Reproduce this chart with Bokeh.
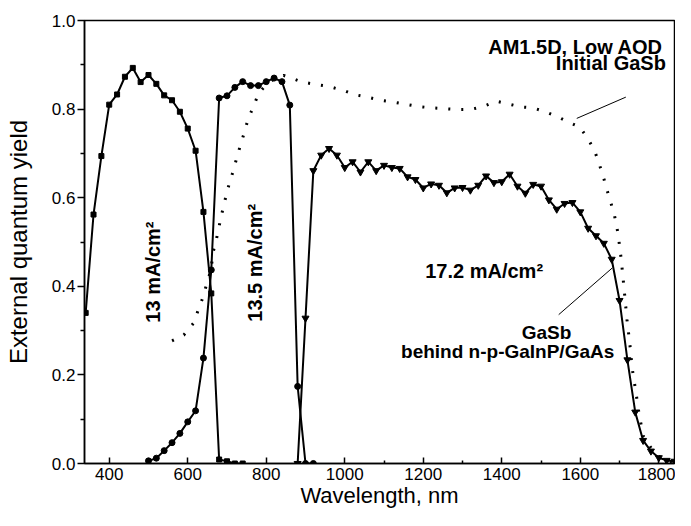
import math
from bokeh.plotting import figure
from bokeh.models import Range1d, FixedTicker, PrintfTickFormatter, Label
from bokeh.embed import file_html
from bokeh.resources import INLINE

# ---- data (wavelength nm, external quantum yield) ----
top_x = [340, 360, 380, 400, 420, 440, 460, 480, 500, 520, 540, 560, 580, 600,
         620, 640, 660, 680, 700, 720, 740]
top_y = [0.34, 0.562, 0.694, 0.81, 0.833, 0.873, 0.893, 0.861, 0.877, 0.857, 0.831,
         0.82, 0.794, 0.756, 0.706, 0.568, 0.384, 0.009, 0.005, 0.0, 0.0]

mid_x = [500, 520, 540, 560, 580, 600, 620, 640, 660, 680, 700, 720, 740, 760,
         780, 800, 820, 840, 860, 880, 900, 920]
mid_y = [0.006, 0.012, 0.029, 0.047, 0.068, 0.094, 0.119, 0.238, 0.437, 0.825,
         0.83, 0.849, 0.862, 0.853, 0.853, 0.862, 0.87, 0.862, 0.809, 0.174, 0.0, 0.0]

bot_x = [880, 900, 920, 940, 960, 980, 1000, 1020, 1040, 1060, 1080, 1100, 1120,
         1140, 1160, 1180, 1200, 1220, 1240, 1260, 1280, 1300, 1320, 1340, 1360,
         1380, 1400, 1420, 1440, 1460, 1480, 1500, 1520, 1540, 1560, 1580, 1600,
         1620, 1640, 1660, 1680, 1700, 1720, 1740, 1760, 1780, 1800, 1820, 1840]
bot_y = [0.0, 0.328, 0.661, 0.696, 0.711, 0.696, 0.668, 0.681, 0.658, 0.681, 0.661,
         0.673, 0.668, 0.666, 0.647, 0.641, 0.622, 0.631, 0.628, 0.611, 0.622, 0.623,
         0.617, 0.628, 0.649, 0.634, 0.636, 0.653, 0.626, 0.61, 0.63, 0.626, 0.595,
         0.574, 0.587, 0.589, 0.568, 0.531, 0.514, 0.497, 0.461, 0.368, 0.234, 0.116,
         0.052, 0.028, 0.013, 0.007, 0.005]

init_x = [560, 590, 615, 627, 637, 646, 659, 665, 673, 686, 701, 715, 728, 742, 754,
          769, 780, 800, 820, 844, 870, 892, 930, 960, 1000, 1023, 1058, 1090, 1123,
          1154, 1186, 1219, 1253, 1286, 1320, 1353, 1386, 1415, 1448, 1478, 1511,
          1544, 1569, 1598, 1619, 1636, 1648, 1661, 1673, 1686, 1696, 1704, 1711,
          1719, 1726, 1732, 1742, 1750, 1761, 1782, 1800, 1820, 1840]
init_y = [0.277, 0.29, 0.317, 0.347, 0.371, 0.398, 0.437, 0.478, 0.506, 0.561, 0.617,
          0.658, 0.70, 0.741, 0.778, 0.809, 0.835, 0.855, 0.868, 0.876, 0.868, 0.861,
          0.855, 0.851, 0.841, 0.833, 0.827, 0.82, 0.816, 0.811, 0.806, 0.803, 0.801,
          0.799, 0.799, 0.806, 0.818, 0.812, 0.805, 0.803, 0.794, 0.782, 0.771, 0.76,
          0.734, 0.707, 0.677, 0.64, 0.602, 0.565, 0.52, 0.463, 0.40, 0.324, 0.272,
          0.216, 0.159, 0.11, 0.061, 0.033, 0.016, 0.006, 0.002]

x_ticks = [400, 600, 800, 1000, 1200, 1400, 1600, 1800]
x_minor = [500, 700, 900, 1100, 1300, 1500, 1700]
y_ticks = [0.0, 0.2, 0.4, 0.6, 0.8, 1.0]
y_minor = [0.1, 0.3, 0.5, 0.7, 0.9]

FONT = "Liberation Sans"

p = figure(width=675, height=510, x_range=Range1d(337, 1840), y_range=Range1d(0, 1.0),
           output_backend="svg", toolbar_location=None,
           min_border_left=84, min_border_top=20, min_border_right=1, min_border_bottom=46)
p.background_fill_color = "white"
p.border_fill_color = "white"
p.grid.visible = False
p.outline_line_color = "black"
p.outline_line_width = 1.5
p.outline_line_alpha = 1.0

p.xaxis.ticker = FixedTicker(ticks=x_ticks, minor_ticks=x_minor)
p.yaxis.ticker = FixedTicker(ticks=y_ticks, minor_ticks=y_minor)
p.yaxis.formatter = PrintfTickFormatter(format="%.1f")

for ax in (p.xaxis[0], p.yaxis[0]):
    ax.axis_line_color = "black"
    ax.axis_line_width = 1.5
    ax.major_tick_line_color = "black"
    ax.major_tick_line_width = 1.5
    ax.minor_tick_line_color = "black"
    ax.minor_tick_line_width = 1.5
    ax.major_label_text_font = FONT
    ax.major_label_text_font_size = "17px"
    ax.major_label_text_color = "black"
    ax.axis_label_text_font = FONT
    ax.axis_label_text_font_style = "normal"
    ax.axis_label_text_color = "black"

p.xaxis.axis_label = "Wavelength, nm"
p.xaxis.axis_label_text_font_size = "22px"
p.xaxis.major_tick_in = 6
p.xaxis.major_tick_out = 0
p.xaxis.minor_tick_in = 3
p.xaxis.minor_tick_out = 0
p.xaxis.major_label_standoff = 4
p.xaxis.axis_label_standoff = 0

p.yaxis.axis_label = "External quantum yield"
p.yaxis.axis_label_text_font_size = "24px"
p.yaxis.major_tick_in = 0
p.yaxis.major_tick_out = 7
p.yaxis.minor_tick_in = 0
p.yaxis.minor_tick_out = 4
p.yaxis.major_label_standoff = 2
p.yaxis.axis_label_standoff = 17

# Initial GaSb (dotted)
p.line(init_x, init_y, line_color="black", line_width=3, line_dash="2 11")

# top cell (squares)
p.line(top_x, top_y, line_color="black", line_width=2)
p.scatter(top_x, top_y, marker="square", size=5, fill_color="black", line_color="black")

# middle cell (circles)
p.line(mid_x, mid_y, line_color="black", line_width=2)
p.scatter(mid_x, mid_y, marker="circle", size=6, fill_color="black", line_color="black")

# GaSb behind (inverted triangles)
p.line(bot_x, bot_y, line_color="black", line_width=2)
p.scatter(bot_x, bot_y, marker="inverted_triangle", size=7, fill_color="black",
          line_color="black")

# leader lines (annotation)
lead_x0 = [1591, 1545]
lead_y0 = [0.779, 0.336]
lead_x1 = [1716, 1681]
lead_y1 = [0.827, 0.441]
p.segment(x0=lead_x0, y0=lead_y0, x1=lead_x1, y1=lead_y1, line_color="black", line_width=1)

# text annotations
ann = [
    dict(x=1810, y=0.94, text="AM1.5D, Low AOD", text_align="right", size="20px", angle=0),
    dict(x=1818, y=0.903, text="Initial GaSb", text_align="right", size="20px", angle=0),
    dict(x=1205, y=0.434, text="17.2 mA/cm\u00b2", text_align="left", size="20px", angle=0),
    dict(x=1514, y=0.296, text="GaSb", text_align="center", size="19px", angle=0),
    dict(x=1415, y=0.253, text="behind n-p-GaInP/GaAs", text_align="center", size="19px", angle=0),
    dict(x=512, y=0.318, text="13 mA/cm\u00b2", text_align="left", size="20px", angle=math.pi / 2),
    dict(x=772, y=0.32, text="13.5 mA/cm\u00b2", text_align="left", size="20px", angle=math.pi / 2),
]
for a in ann:
    p.add_layout(Label(x=a["x"], y=a["y"], text=a["text"], text_align=a["text_align"],
                       text_baseline="alphabetic", angle=a["angle"],
                       text_font=FONT, text_font_size=a["size"], text_font_style="bold",
                       text_color="black"))

open("out.html", "w").write(file_html(p, INLINE))
